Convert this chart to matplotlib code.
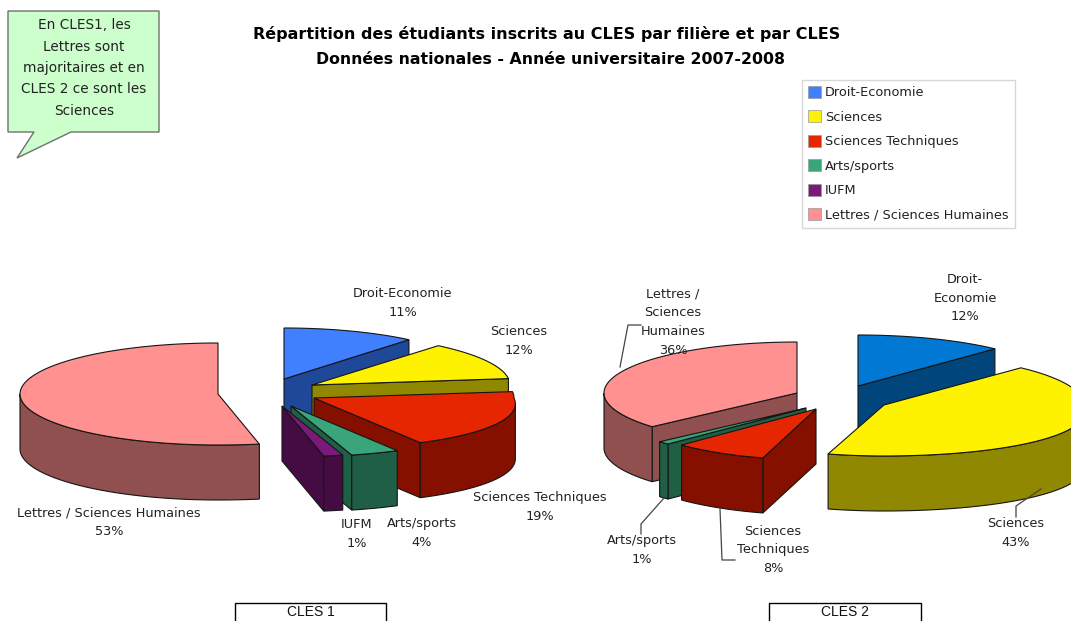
import numpy as np
import matplotlib
matplotlib.use('Agg')
import matplotlib.pyplot as plt
from matplotlib.patches import Polygon, Patch, Rectangle

# filieres, same order in both pies (clockwise from 12 o'clock)
filieres = ['Droit-Economie', 'Sciences', 'Sciences Techniques', 'Arts/sports', 'IUFM', 'Lettres / Sciences Humaines']
cles1_values = [11, 12, 19, 3.6, 1.4, 53]
cles2_values = [12, 42.51, 8, 1, 0, 36.49]

# label text with line breaks, per pie
cles1_names = ['Droit-Economie', 'Sciences', 'Sciences Techniques', 'Arts/sports', 'IUFM', 'Lettres / Sciences Humaines']
cles2_names = ['Droit-\nEconomie', 'Sciences', 'Sciences\nTechniques', 'Arts/sports', 'IUFM', 'Lettres /\nSciences\nHumaines']

top_colors = ['#4080ff', '#fff200', '#e62600', '#3aa57b', '#7b1a7b', '#ff9190']
side_colors = ['#204898', '#908800', '#851000', '#1f5f45', '#440c42', '#90504f']
cles2_top_colors = ['#0078d4'] + top_colors[1:]
cles2_side_colors = ['#00467c'] + side_colors[1:]

# layout: exploded slice centres in pixels, radius, drawing order
cles1_centers = [(284, 379), (312, 385), (314, 398), (291, 406), (282, 406), (218, 394)]
cles2_centers = [(858, 386), (884, 405), (816, 409), (806, 408), (806, 408), (797, 393)]
cles1_rx = [196, 198, 200, 200, 200, 198]
cles2_rx = [200, 200, 190, 195, 200, 193]
cles1_order = [0, 1, 5, 2, 3, 4]
cles2_order = [0, 5, 3, 2, 1]
cles1_label_pos = [(403, 303), (519, 341), (540, 507), (422, 533), (357, 534), (109, 522)]
cles2_label_pos = [(965, 298), (1016, 533), (773, 550), (642, 550), None, (673, 322)]
RY = 51
DEPTH = 55
PERSP = 0.0023

plt.rcParams['font.family'] = ['DejaVu Sans']


def project(cx, cy, rx, theta):
    x = rx * np.sin(theta)
    y = -RY * np.cos(theta)
    # front right gets a bit wider, like the excel perspective
    x = np.where((x > 0) & (y > 0), x * (1 + PERSP * y), x)
    return np.column_stack((cx + x, cy + y))


def draw_slice(ax, center, rx, start, end, top, side):
    cx, cy = center
    down = np.array([0, DEPTH])
    apex = np.array(center, dtype=float)
    t0, t1 = np.radians(start), np.radians(end)
    faces = []
    if 0 < end < 180:
        faces.append(end)
    if 180 < start < 360:
        faces.append(start)
    for a in faces:
        p = project(cx, cy, rx, np.array([np.radians(a)]))[0]
        ax.add_patch(Polygon([apex, p, p + down, apex + down], fc=side, ec='#151515', lw=0.8))
    # outer wall, only the part turned towards us (97 deg is the widest point)
    lo, hi = max(start, 97), min(end, 270)
    if hi > lo:
        arc = project(cx, cy, rx, np.radians(np.linspace(lo, hi, 80)))
        ax.add_patch(Polygon(np.vstack((arc, (arc + down)[::-1])), fc=side, ec='#151515', lw=0.8))
    arc = project(cx, cy, rx, np.linspace(t0, t1, 120))
    ax.add_patch(Polygon(np.vstack((apex, arc)), fc=top, ec='#151515', lw=0.8))


def draw_pie(ax, values, centers, rxs, order, tops, sides):
    bounds = np.concatenate(([0], np.cumsum(values))) / np.sum(values) * 360
    for i in order:
        draw_slice(ax, centers[i], rxs[i], bounds[i], bounds[i + 1], tops[i], sides[i])


def draw_labels(ax, names, values, positions):
    for name, v, pos in zip(names, values, positions):
        if pos is None:
            continue
        ax.text(pos[0], pos[1], f'{name}\n{v:.0f}%', ha='center', va='center', fontsize=9.3,
                color='#222222', linespacing=1.58)


fig = plt.figure(figsize=(10.71, 6.21), dpi=100)
ax = fig.add_axes([0, 0, 1, 1])
ax.set_xlim(0, 1071)
ax.set_ylim(621, 0)
ax.axis('off')

draw_pie(ax, cles1_values, cles1_centers, cles1_rx, cles1_order, top_colors, side_colors)
draw_pie(ax, cles2_values, cles2_centers, cles2_rx, cles2_order, cles2_top_colors, cles2_side_colors)
draw_labels(ax, cles1_names, cles1_values, cles1_label_pos)
draw_labels(ax, cles2_names, cles2_values, cles2_label_pos)

# leader lines of the second pie
leaders = [
    [(620, 367), (628, 325), (641, 325)],
    [(1041, 489), (1016, 506), (1016, 517)],
    [(720, 509), (722, 560), (735, 560)],
    [(664, 498), (641, 524), (641, 534)],
]
for line in leaders:
    xs, ys = zip(*line)
    ax.plot(xs, ys, color='#444444', lw=0.9)

# title
ax.text(547, 34, 'Répartition des étudiants inscrits au CLES par filière et par CLES', ha='center',
        va='center', fontsize=11.5, fontweight='bold', color='black')
ax.text(551, 60, 'Données nationales - Année universitaire 2007-2008', ha='center',
        va='center', fontsize=11.3, fontweight='bold', color='black')

# speech bubble
bubble = [(8, 11), (159, 11), (159, 132), (71, 132), (17, 158), (34, 132), (8, 132)]
ax.add_patch(Polygon(bubble, fc='#ccffcc', ec='#707070', lw=1))
ax.text(84, 68, 'En CLES1, les\nLettres sont\nmajoritaires et en\nCLES 2 ce sont les\nSciences', ha='center',
        va='center', fontsize=9.8, color='#222222', linespacing=1.67)

# legend
handles = [Patch(fc=c, ec='#999999', lw=0.5) for c in top_colors]
leg = ax.legend(handles, filieres, loc='upper left', bbox_to_anchor=(802 / 1071, 1 - 80 / 621),
                bbox_transform=ax.transAxes, fontsize=9.3, frameon=True, fancybox=False, edgecolor='#d8d8d8',
                framealpha=1, borderaxespad=0, handlelength=1.05, handleheight=1.05, handletextpad=0.3,
                labelspacing=0.86, borderpad=0.45, labelcolor='#222222')
leg.get_frame().set_linewidth(1)

# boxes under the pies, cut by the bottom of the page
for x0, x1, name in [(235, 386, 'CLES 1'), (769, 921, 'CLES 2')]:
    ax.add_patch(Rectangle((x0, 603), x1 - x0, 40, fc='white', ec='black', lw=1, clip_on=True))
    ax.text((x0 + x1) / 2, 612, name, ha='center', va='center', fontsize=10,
            family='Liberation Sans', color='#111111')

fig.savefig('out.png', dpi=100)
